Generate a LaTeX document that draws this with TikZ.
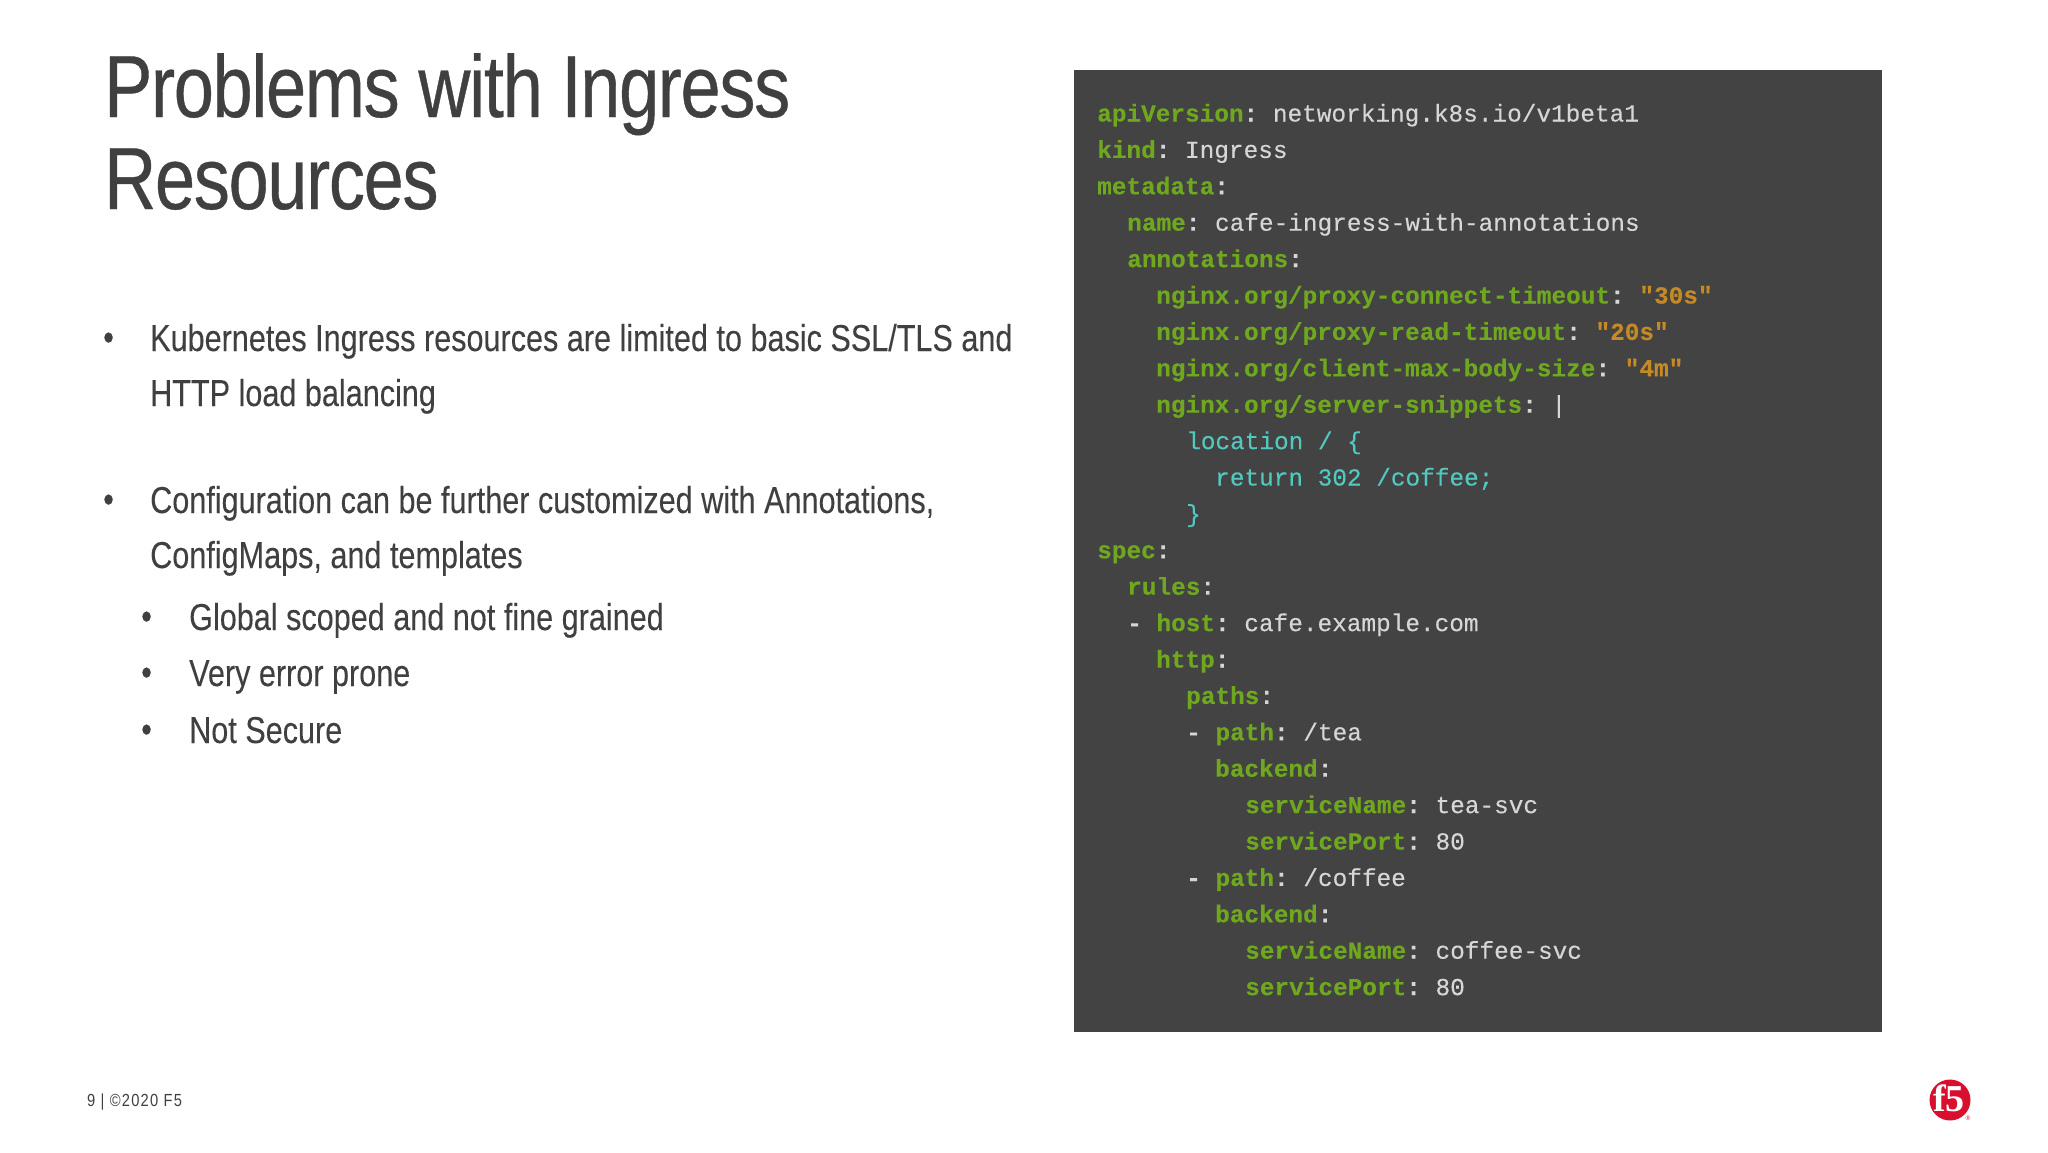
\documentclass[tikz,border=0pt]{standalone}
\usepackage{fontspec}
\setmainfont{Liberation Sans}[FakeStretch=0.816,FakeBold=0.12]
\newfontfamily\titlefont{Liberation Sans}[FakeStretch=0.82,LetterSpace=-1.5,FakeBold=0.4]
\newfontfamily\codefont{Liberation Mono}[FakeBold=0.2]
\newfontfamily\plainfont{Liberation Sans}[FakeStretch=0.84,LetterSpace=7]
\newfontfamily\logofont{Liberation Serif}
\definecolor{slidetext}{HTML}{404040}
\definecolor{panelgray}{HTML}{434343}
\definecolor{keygreen}{HTML}{6FA81F}
\definecolor{valwhite}{HTML}{D6D6D6}
\definecolor{strorange}{HTML}{C58A25}
\definecolor{snipteal}{HTML}{52C8BE}
\definecolor{logored}{HTML}{D8102E}
\newcommand{\kw}[1]{\textcolor{keygreen}{\textbf{#1}}\textcolor{valwhite}{\textbf{:}}}
\newcommand{\str}[1]{\textcolor{strorange}{\textbf{#1}}}
\tikzset{
  every node/.style={inner sep=0pt,anchor=base west},
  titleline/.style={text=slidetext,font=\titlefont\fontsize{88}{88}\selectfont},
  bodyline/.style={text=slidetext,font=\fontsize{37.5}{40}\selectfont},
  codeline/.style={text=valwhite,font=\codefont\fontsize{24.4}{26}\selectfont\frenchspacing},
  tealline/.style={codeline,text=snipteal},
}
\begin{document}
\begin{tikzpicture}[x=1pt,y=-1pt]
  \useasboundingbox (0,0) rectangle (2048,1152);
  \node[titleline](title1)at(104,117){Problems with Ingress};
  \node[titleline](title2)at(104,209){Resources};
  % bullets
  \node[bodyline](dotA)at(103,350){•};
  \node[bodyline](bulA1)at(150,351){Kubernetes Ingress resources are limited to basic SSL/TLS and};
  \node[bodyline](bulA2)at(150,406){HTTP load balancing};
  \node[bodyline](dotB)at(103,512){•};
  \node[bodyline](bulB1)at(150,513){Configuration can be further customized with Annotations,};
  \node[bodyline](bulB2)at(150,568){ConfigMaps, and templates};
  \node[bodyline](dotC)at(141,629){•};
  \node[bodyline](subC)at(189,630){Global scoped and not fine grained};
  \node[bodyline](dotD)at(141,685){•};
  \node[bodyline](subD)at(189,686){Very error prone};
  \node[bodyline](dotE)at(141,742){•};
  \node[bodyline](subE)at(189,743){Not Secure};
  % code panel
  \node[fill=panelgray,anchor=north west,minimum width=808pt,minimum height=962.5pt](panel)at(1073.5,69.5){};
  \node[codeline](code1)at(1097,121.5){\kw{apiVersion} networking.k8s.io/v1beta1};
  \node[codeline](code2)at(1097,157.9){\kw{kind} Ingress};
  \node[codeline](code3)at(1097,194.3){\kw{metadata}};
  \node[codeline](code4)at(1127,230.7){\kw{name} cafe-ingress-with-annotations};
  \node[codeline](code5)at(1127,267.1){\kw{annotations}};
  \node[codeline](code6)at(1156,303.5){\kw{nginx.org/proxy-connect-timeout} \str{"30s"}};
  \node[codeline](code7)at(1156,339.9){\kw{nginx.org/proxy-read-timeout} \str{"20s"}};
  \node[codeline](code8)at(1156,376.3){\kw{nginx.org/client-max-body-size} \str{"4m"}};
  \node[codeline](code9)at(1156,412.7){\kw{nginx.org/server-snippets} |};
  \node[tealline](code10)at(1186,449.1){location / \{};
  \node[tealline](code11)at(1215,485.5){return 302 /coffee;};
  \node[tealline](code12)at(1186,521.9){\}};
  \node[codeline](code13)at(1097,558.3){\kw{spec}};
  \node[codeline](code14)at(1127,594.7){\kw{rules}};
  \node[codeline](code15)at(1127,631.1){\textbf{-} \kw{host} cafe.example.com};
  \node[codeline](code16)at(1156,667.5){\kw{http}};
  \node[codeline](code17)at(1186,703.9){\kw{paths}};
  \node[codeline](code18)at(1186,740.3){\textbf{-} \kw{path} /tea};
  \node[codeline](code19)at(1215,776.7){\kw{backend}};
  \node[codeline](code20)at(1245,813.1){\kw{serviceName} tea-svc};
  \node[codeline](code21)at(1245,849.5){\kw{servicePort} 80};
  \node[codeline](code22)at(1186,885.9){\textbf{-} \kw{path} /coffee};
  \node[codeline](code23)at(1215,922.3){\kw{backend}};
  \node[codeline](code24)at(1245,958.7){\kw{serviceName} coffee-svc};
  \node[codeline](code25)at(1245,995.1){\kw{servicePort} 80};
  % footer
  \node[text=slidetext,font=\plainfont\fontsize{17.5}{18}\selectfont](footer)at(87,1106){9 | ©2020 F5};
  \node[circle,fill=logored,minimum size=41pt,anchor=center](logo)at(1950,1100){};
  \node[text=white,anchor=center,font=\logofont\bfseries\fontsize{38}{38}\selectfont](logotext)at(1949,1098){f5};
  \node[text=logored,anchor=center,font=\logofont\fontsize{7}{7}\selectfont](logomark)at(1968,1118){®};
\end{tikzpicture}
\end{document}
